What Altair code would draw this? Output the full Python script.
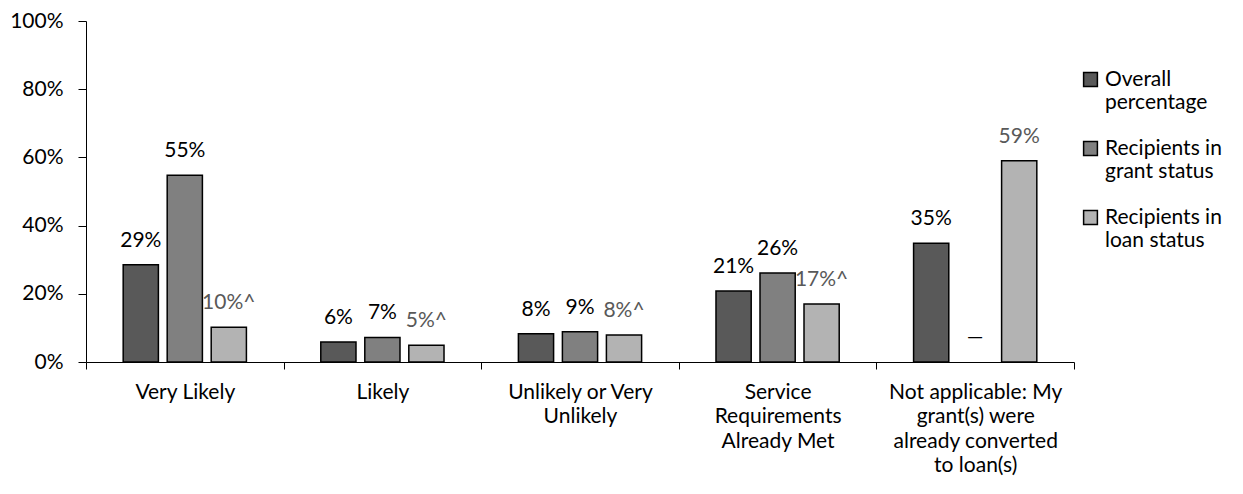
import json
import altair as alt
import pandas as pd

categories = [
    "Very Likely",
    "Likely",
    "Unlikely or Very Unlikely",
    "Service Requirements Already Met",
    "Not applicable: My grant(s) were already converted to loan(s)",
]
category_lines = [
    ["Very Likely"],
    ["Likely"],
    ["Unlikely or Very", "Unlikely"],
    ["Service", "Requirements", "Already Met"],
    ["Not applicable: My", "grant(s) were", "already converted", "to loan(s)"],
]
series = ["Overall percentage", "Recipients in grant status", "Recipients in loan status"]
series_lines = [
    ["Overall", "percentage"],
    ["Recipients in", "grant status"],
    ["Recipients in", "loan status"],
]
colors = ["#595959", "#808080", "#b3b3b3"]

overall = [28.5, 5.9, 8.3, 20.8, 34.8]
grant = [54.8, 7.2, 8.9, 26.1, None]
loan = [10.2, 4.9, 7.9, 17.0, 59.0]

overall_labels = ["29%", "6%", "8%", "21%", "35%"]
grant_labels = ["55%", "7%", "9%", "26%", "—"]
loan_labels = ["10%^", "5%^", "8%^", "17%^", "59%"]

rows = []
for s, vals, labs in zip(series, [overall, grant, loan], [overall_labels, grant_labels, loan_labels]):
    for c, v, l in zip(categories, vals, labs):
        rows.append({"category": c, "series": s, "value": v, "label": l})
df = pd.DataFrame(rows)


def map_expr(keys, lines):
    parts = []
    for k, ln in zip(keys, lines):
        parts.append(f"datum.label == {json.dumps(k)} ? {json.dumps(ln)} : ")
    return "".join(parts) + "datum.label"


FONT = "Lato"
FS = 21

x = alt.X(
    "category:N",
    sort=categories,
    scale=alt.Scale(paddingInner=0, paddingOuter=0),
    axis=alt.Axis(
        title=None,
        labelAngle=0,
        labelExpr=map_expr(categories, category_lines),
        labelLineHeight=24.5,
        labelPadding=12,
        tickBand="extent",
        tickSize=7,
        tickColor="black",
        domainColor="black",
        labelColor="black",
        labelFontSize=FS,
        labelFont=FONT,
        labelBaseline="top",
    ),
)
xoff = alt.XOffset("series:N", sort=series, scale=alt.Scale(paddingInner=0.2, paddingOuter=0.845))
y = alt.Y(
    "value:Q",
    scale=alt.Scale(domain=[0, 100]),
    axis=alt.Axis(
        title=None,
        values=[0, 20, 40, 60, 80, 100],
        labelExpr="datum.value + '%'",
        grid=False,
        tickSize=8,
        tickColor="black",
        domainColor="black",
        labelColor="black",
        labelFontSize=FS,
        labelFont=FONT,
        labelPadding=15,
    ),
)

bars = alt.Chart(df).mark_bar(stroke="black", strokeWidth=1.5).encode(
    x=x,
    xOffset=xoff,
    y=y,
    color=alt.Color(
        "series:N",
        sort=series,
        scale=alt.Scale(domain=series, range=colors),
        legend=alt.Legend(
            title=None,
            orient="none",
            legendX=994,
            legendY=48,
            labelExpr=map_expr(series, series_lines),
            labelFontSize=FS,
            labelFont=FONT,
            labelColor="black",
            labelLimit=220,
            symbolType="square",
            symbolSize=190,
            symbolStrokeColor="black",
            symbolStrokeWidth=1.5,
            symbolOpacity=1,
            rowPadding=24,
            labelOffset=4,
            padding=0,
        ),
    ),
)

labels = alt.Chart(df).transform_calculate(
    ypos="datum.value == null ? 0 : datum.value"
).mark_text(dy=-24, baseline="middle", fontSize=FS, font=FONT).encode(
    x=alt.X("category:N", sort=categories),
    xOffset=alt.XOffset("series:N", sort=series),
    y=alt.Y("ypos:Q"),
    text="label:N",
    color=alt.condition(
        alt.datum.series == series[2], alt.value("#595959"), alt.value("black")
    ),
)

chart = (
    alt.layer(bars, labels)
    .properties(
        width=988,
        height=341,
        autosize=alt.AutoSizeParams(type="none"),
        padding={"left": 78, "top": 13, "right": 161, "bottom": 116},
    )
    .configure_view(stroke=None)
)

chart.save("out.html", embed_options={"renderer": "svg", "actions": False})
